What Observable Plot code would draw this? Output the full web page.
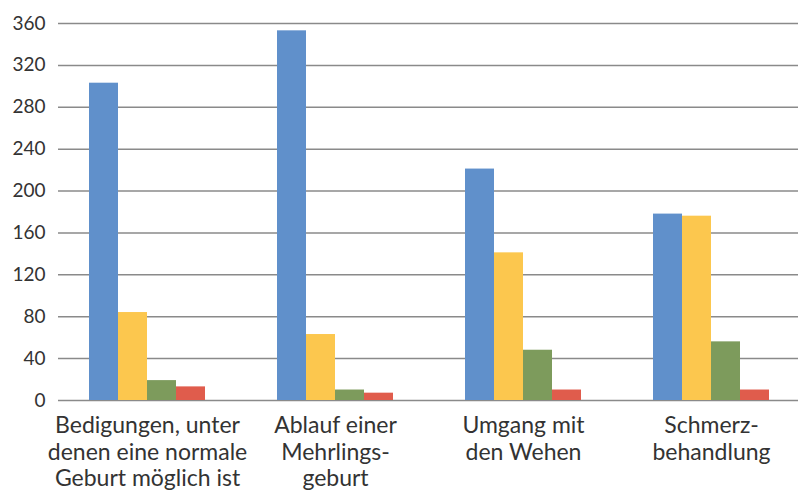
<!DOCTYPE html>
<html>
<head>
<meta charset="utf-8">
<script src="https://cdn.jsdelivr.net/npm/d3@7"></script>
<script src="https://cdn.jsdelivr.net/npm/@observablehq/plot@0.6"></script>
<style>
  html, body { margin: 0; padding: 0; background: #fff; overflow: hidden; }
  #chart svg { overflow: hidden; }
</style>
</head>
<body>
<div id="chart"></div>
<script>
const groups = ["g1", "g2", "g3", "g4"];
const groupLabels = [
  "Bedigungen, unter\ndenen eine normale\nGeburt möglich ist",
  "Ablauf einer\nMehrlings-\ngeburt",
  "Umgang mit\nden Wehen",
  "Schmerz-\nbehandlung"
];
const series = ["s1", "s2", "s3", "s4"];
const seriesColors = ["#6090cb", "#fcc74e", "#7d9b5c", "#e05c4c"];
const valuesS1 = [303, 353, 221, 178];
const valuesS2 = [84, 63, 141, 176];
const valuesS3 = [19, 10, 48, 56];
const valuesS4 = [13, 7, 10, 10];
const yTicks = [0, 40, 80, 120, 160, 200, 240, 280, 320, 360];

const allValues = [valuesS1, valuesS2, valuesS3, valuesS4];
const data = [];
groups.forEach((g, gi) => {
  series.forEach((s, si) => {
    data.push({group: g, series: s, value: allValues[si][gi]});
  });
});
const labelOf = new Map(groups.map((g, i) => [g, groupLabels[i]]));

const chart = Plot.plot({
  width: 798,
  height: 491,
  marginTop: 23,
  marginBottom: 91,
  marginLeft: 58,
  marginRight: 0,
  style: {fontFamily: "Lato, 'Open Sans', sans-serif", color: "#333", background: "#fff"},
  fx: {
    domain: groups,
    range: [53, 805],
    paddingInner: 0,
    paddingOuter: 0,
    label: null,
    axis: null
  },
  x: {domain: series, paddingInner: 0, paddingOuter: 1.19, axis: null},
  y: {domain: [0, 360], axis: null},
  color: {domain: series, range: seriesColors},
  marks: [
    Plot.ruleY(yTicks, {y: d => d, stroke: "#8a8a8a", strokeWidth: 1.5}),
    Plot.barY(data, {fx: "group", x: "series", y: "value", fill: "series"}),
    Plot.text(groups, {
      fx: d => d,
      text: d => labelOf.get(d),
      frameAnchor: "bottom",
      lineAnchor: "top",
      dy: 13,
      lineHeight: 1.17,
      fontSize: 23,
      fill: "#333"
    })
  ]
});

const yAxis = Plot.plot({
  width: 58,
  height: 491,
  marginTop: 23,
  marginBottom: 91,
  marginLeft: 58,
  marginRight: 0,
  style: {fontFamily: "Lato, 'Open Sans', sans-serif", color: "#333", background: "transparent"},
  y: {domain: [0, 360], ticks: yTicks, tickSize: 0, tickPadding: 13, label: null, fontSize: 19},
  marks: [Plot.axisY(yTicks, {tickSize: 0, tickPadding: 13, fontSize: 19, label: null})]
});

const wrap = document.getElementById("chart");
wrap.style.position = "relative";
wrap.appendChild(chart);
yAxis.style.position = "absolute";
yAxis.style.left = "0px";
yAxis.style.top = "0px";
yAxis.style.overflow = "visible";
yAxis.style.background = "transparent";
wrap.appendChild(yAxis);
// white strip covering the grid overhang left of the plot frame
const strip = document.createElement("div");
strip.style.cssText = "position:absolute;left:0;top:0;width:58px;height:410px;background:#fff;";
wrap.insertBefore(strip, yAxis);
</script>
</body>
</html>
